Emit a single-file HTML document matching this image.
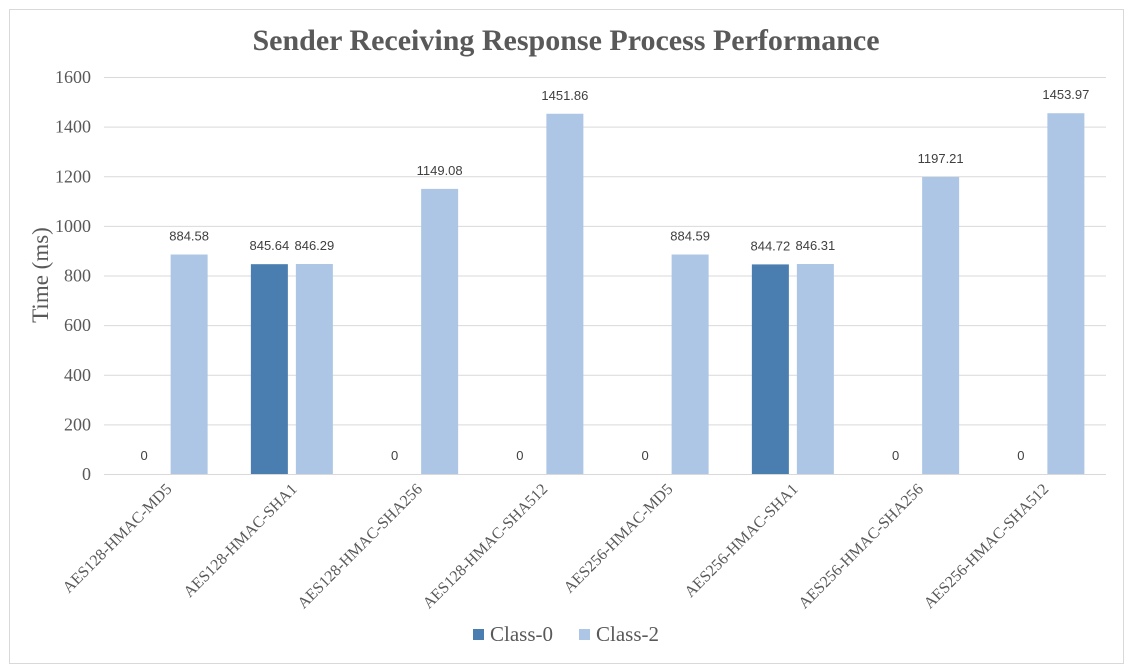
<!DOCTYPE html>
<html><head><meta charset="utf-8"><style>
body{margin:0;background:#fff;}
svg{display:block;}
</style></head><body>
<svg id="chart" width="1133" height="670" xmlns="http://www.w3.org/2000/svg">
<rect x="9.5" y="9.5" width="1114" height="654" fill="#fff" stroke="#d9d9d9"/>
<text x="566" y="50" text-anchor="middle" font-family="Liberation Serif, serif" font-weight="bold" font-size="30" fill="#595959">Sender Receiving Response Process Performance</text>
<text transform="translate(48,275) rotate(-90)" text-anchor="middle" font-family="Liberation Serif, serif" font-size="23" fill="#595959">Time (ms)</text>
<g id="grid"></g><g id="bars"></g><g id="labels"></g>
<g font-family="Liberation Serif, serif" font-size="21" fill="#595959">
<rect x="473" y="629" width="11" height="11" fill="#4a7eb0"/>
<text x="490" y="641">Class-0</text>
<rect x="579" y="629" width="11" height="11" fill="#adc6e5"/>
<text x="596" y="641">Class-2</text>
</g>
</svg>
<script>
const categories=["AES128-HMAC-MD5","AES128-HMAC-SHA1","AES128-HMAC-SHA256","AES128-HMAC-SHA512","AES256-HMAC-MD5","AES256-HMAC-SHA1","AES256-HMAC-SHA256","AES256-HMAC-SHA512"];
const class0=[0,845.64,0,0,0,844.72,0,0];
const class2=[884.58,846.29,1149.08,1451.86,884.59,846.31,1197.21,1453.97];
const yTicks=[0,200,400,600,800,1000,1200,1400,1600];
const NS="http://www.w3.org/2000/svg";
const X0=104,X1=1106,Y0=474,Y1=77,YMAX=1600;
const cw=(X1-X0)/categories.length;
const y=v=>Y0-(v/YMAX)*(Y0-Y1);
const xc=i=>X0+cw*(i+0.5);
function mk(tag,attrs,parent){const e=document.createElementNS(NS,tag);for(const k in attrs)e.setAttribute(k,attrs[k]);parent.appendChild(e);return e;}
const grid=document.getElementById('grid'),bars=document.getElementById('bars'),labels=document.getElementById('labels');
yTicks.forEach(t=>{
 const l=mk('line',{x1:X0,x2:X1,y1:y(t)+0.5,y2:y(t)+0.5,stroke:'#d9d9d9','stroke-width':1},grid);
 
 
 const tx=mk('text',{x:91,y:y(t)+6,'text-anchor':'end','font-family':'Liberation Serif, serif','font-size':'18',fill:'#595959'},grid);
 tx.textContent=t;
 
 
});
const bw=37,gap=8;
categories.forEach((c,i)=>{
 [[class0[i],'#4a7eb0',-1,'class-0'],[class2[i],'#adc6e5',1,'class-2']].forEach(([v,col,s,nm])=>{
  const bx=s<0?xc(i)-gap/2-bw:xc(i)+gap/2;
  const r=mk('rect',{x:bx,y:y(v),width:bw,height:Y0-y(v),fill:col},bars);
  
  
  const t=mk('text',{x:bx+bw/2,y:y(v)-14,'text-anchor':'middle','font-family':'Liberation Sans, sans-serif','font-size':'13',fill:'#404040'},labels);
  t.textContent=v;
  
  
 });
 const cl=mk('text',{transform:`translate(${xc(i)+6},${Y0+16}) rotate(-45)`,'text-anchor':'end','font-family':'Liberation Serif, serif','font-size':'16',fill:'#595959'},labels);
 cl.textContent=c;
 
 
});
</script>
</body></html>
